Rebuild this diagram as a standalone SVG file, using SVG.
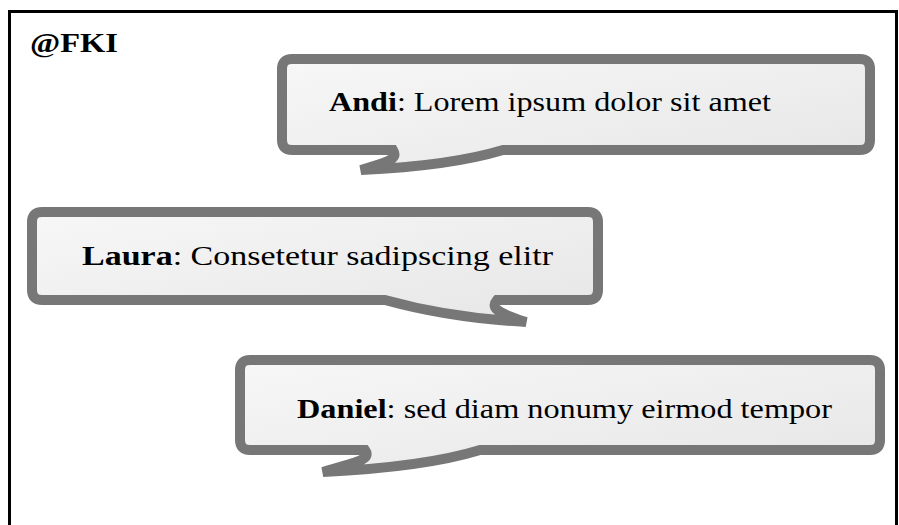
<svg xmlns="http://www.w3.org/2000/svg" width="899" height="525" viewBox="0 0 899 525">
  <defs>
    <linearGradient id="fillGrad" x1="0" y1="0" x2="1" y2="1">
      <stop offset="0" stop-color="#f7f7f7"/>
      <stop offset="1" stop-color="#e6e6e6"/>
    </linearGradient>
  </defs>
  <style>
    .bubble { fill: url(#fillGrad); stroke: #777777; stroke-width: 10; stroke-linejoin: miter; stroke-miterlimit: 3; }
    .txt { font-family: "Liberation Serif", "DejaVu Serif", serif; font-size: 28px; fill: #000; }
    .name { font-weight: bold; }
  </style>
  <rect x="9.5" y="11.5" width="887" height="530" fill="#ffffff" stroke="#000000" stroke-width="3"/>
  <text x="30" y="52" class="txt name" textLength="88" lengthAdjust="spacingAndGlyphs">@FKI</text>
  <g id="andi">
    <path class="bubble" d="M 292,59 H 860 Q 870,59 870,69 V 140 Q 870,150 860,150 H 503 Q 450,166 361,170 C 385,162 399,160 393,150 H 292 Q 282,150 282,140 V 69 Q 282,59 292,59 Z"/>
    <text x="329" y="111" class="txt" textLength="442" lengthAdjust="spacingAndGlyphs"><tspan class="name">Andi</tspan>: Lorem ipsum dolor sit amet</text>
  </g>
  <g id="laura">
    <path class="bubble" d="M 42,212 H 588 Q 598,212 598,222 V 290 Q 598,300 588,300 H 497 C 490,308 498,313 526,322 Q 450,318 385,300 H 42 Q 32,300 32,290 V 222 Q 32,212 42,212 Z"/>
    <text x="82" y="265" class="txt" textLength="471" lengthAdjust="spacingAndGlyphs"><tspan class="name">Laura</tspan>: Consetetur sadipscing elitr</text>
  </g>
  <g id="daniel">
    <path class="bubble" d="M 250,360 H 870 Q 880,360 880,370 V 440 Q 880,450 870,450 H 480 Q 425,467 323,472 C 350,463 373,461 365,450 H 250 Q 240,450 240,440 V 370 Q 240,360 250,360 Z"/>
    <text x="297" y="418" class="txt" textLength="535" lengthAdjust="spacingAndGlyphs"><tspan class="name">Daniel</tspan>: sed diam nonumy eirmod tempor</text>
  </g>
  <g id="connectors"/>
</svg>
